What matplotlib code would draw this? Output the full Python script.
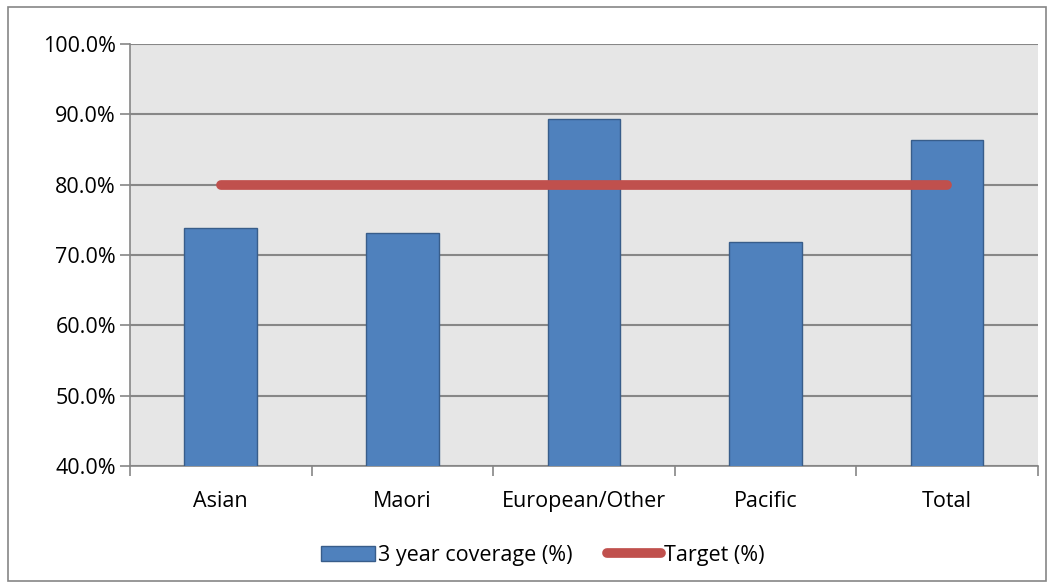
import matplotlib.pyplot as plt
import matplotlib.patches as mpatches
from matplotlib.ticker import FuncFormatter, FixedLocator
import numpy as np

categories = ['Asian', 'Maori', 'European/Other', 'Pacific', 'Total']
coverage = [73.9, 73.1, 89.3, 71.9, 86.4]
target = [80.0, 80.0, 80.0, 80.0, 80.0]

plt.rcParams['font.family'] = ['Open Sans', 'DejaVu Sans']

fig = plt.figure(figsize=(10.54, 5.88), dpi=100)
fig.patches.append(mpatches.Rectangle((0.008, 0.012), 0.984, 0.976, transform=fig.transFigure,
                                      fill=False, edgecolor='#868686', linewidth=1.2))
ax = fig.add_axes([0.1233, 0.2075, 0.8615, 0.7177])
ax.set_facecolor('#E6E6E6')

x = np.arange(len(categories))
bars = ax.bar(x, coverage, width=0.4, bottom=0, color='#4F81BD', edgecolor='#385D8A',
              linewidth=1.0, label='3 year coverage (%)', zorder=3)
line, = ax.plot(x, target, color='#C0504D', linewidth=7, solid_capstyle='round',
                label='Target (%)', zorder=4)

ax.set_ylim(40, 100)
ax.set_xlim(-0.5, len(categories) - 0.5)
ax.set_yticks(np.arange(40, 101, 10))
ax.yaxis.set_major_formatter(FuncFormatter(lambda v, p: f'{v:.1f}%'))
ax.yaxis.grid(True, color='#878787', linewidth=1.5, zorder=1)
ax.set_axisbelow(True)

ax.set_xticks(x)
ax.set_xticklabels(categories)
ax.tick_params(axis='x', length=0, labelsize=15.5, pad=18)
ax.xaxis.set_minor_locator(FixedLocator(np.arange(-0.5, len(categories), 1.0)))
ax.tick_params(axis='x', which='minor', length=7, color='#868686', width=1.2)
ax.tick_params(axis='y', length=7, color='#868686', width=1.2, labelsize=15.5, pad=3)

for s in ['top', 'right']:
    ax.spines[s].set_visible(False)
for s in ['left', 'bottom']:
    ax.spines[s].set_color('#868686')
    ax.spines[s].set_linewidth(1.2)

leg = fig.legend(handles=[bars, line], loc='center', bbox_to_anchor=(0.515, 0.056), ncol=2,
                 frameon=False, fontsize=15.5, handlelength=2.5, handletextpad=0.15,
                 columnspacing=1.6)

fig.savefig('out.png', dpi=100)
